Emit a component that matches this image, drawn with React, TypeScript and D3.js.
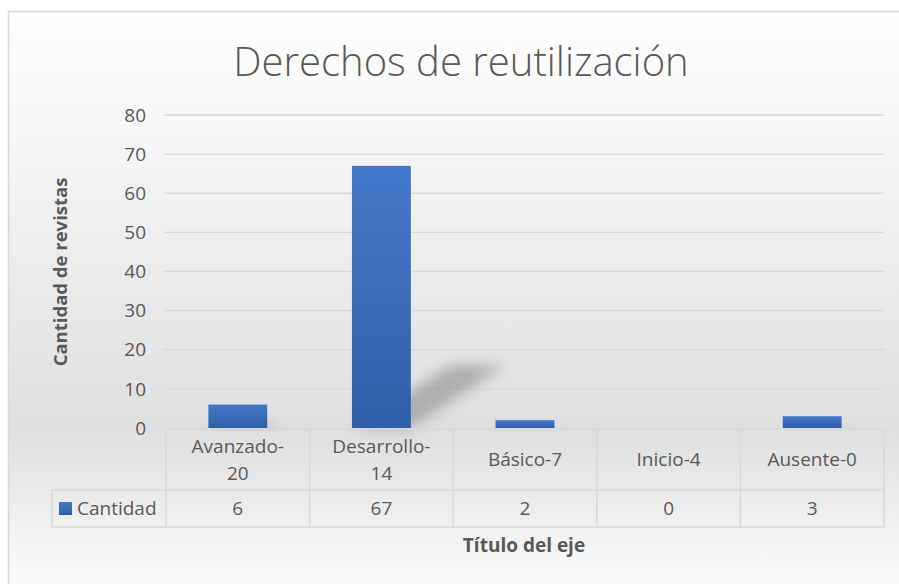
import React from "react";
import * as d3 from "d3";

const categories: string[] = ["Avanzado-20", "Desarrollo-14", "Básico-7", "Inicio-4", "Ausente-0"];
const values: number[] = [6, 67, 2, 0, 3];
const yTicks: number[] = [0, 10, 20, 30, 40, 50, 60, 70, 80];
const seriesName = "Cantidad";
const title = "Derechos de reutilización";
const yTitle = "Cantidad de revistas";
const xTitle = "Título del eje";

const W = 899;
const H = 584;
const FONT = "'Open Sans', 'Noto Sans', sans-serif";
const TXT = "#595959";
const GRID = "#d9d9d9";

export default function App() {
  const plotLeft = 166;
  const plotRight = 884;
  const x = d3.scaleBand<string>().domain(categories).range([plotLeft, plotRight]).padding(0);
  const y = d3.scaleLinear().domain([0, 80]).range([428, 115]);
  const bw = x.bandwidth();
  const barW = bw * 0.41;

  const hdrTop = 429;
  const hdrBot = 490;
  const valBot = 527;
  const legLeft = 52;
  const fs = 19;

  const splitLabel = (s: string) => {
    if (s.length > 10) {
      const i = s.indexOf("-");
      return [s.slice(0, i + 1), s.slice(i + 1)];
    }
    return [s];
  };

  return (
    <svg width={W} height={H} style={{ position: "absolute", left: 0, top: 0 }} fontFamily={FONT}>
      <defs>
        <linearGradient id="bg" x1="0" y1="11" x2="0" y2="610" gradientUnits="userSpaceOnUse">
          <stop offset="0" stopColor="#ffffff" />
          <stop offset="0.7" stopColor="#dfdfdf" />
          <stop offset="1" stopColor="#ffffff" />
        </linearGradient>
        <linearGradient id="bar" x1="0" y1="0" x2="0" y2="1">
          <stop offset="0" stopColor="#4479c9" />
          <stop offset="1" stopColor="#2f5fa9" />
        </linearGradient>
        <filter id="blur" x="-50%" y="-50%" width="200%" height="200%">
          <feGaussianBlur stdDeviation="7" />
        </filter>
      </defs>
      <rect x={0} y={0} width={W} height={H} fill="#ffffff" />
      <rect x={8.5} y={11.5} width={W} height={H + 40} fill="url(#bg)" stroke={GRID} strokeWidth={1.5} />

      <text x={461} y={76} textAnchor="middle" fontSize={40} fontWeight={300} fill={TXT}>
        {title}
      </text>

      {yTicks.map((t) => (
        <g key={t}>
          {t > 0 && (
            <line x1={plotLeft - 2} x2={plotRight} y1={y(t)} y2={y(t)} stroke={GRID} strokeWidth={1.3} />
          )}
          <text x={146} y={y(t)} dy="0.35em" textAnchor="end" fontSize={fs} fill={TXT}>
            {t}
          </text>
        </g>
      ))}

      {categories.map((c, i) => {
        const v = values[i];
        if (v <= 0) return null;
        const x0 = (x(c) as number) + (bw - barW) / 2;
        const h = y(0) - y(v);
        const dx = h * 0.36;
        const dy = h * 0.24;
        const base = y(0);
        const pts = [
          [x0 + 4, base],
          [x0 + barW, base],
          [x0 + barW + dx, base - dy],
          [x0 + 4 + dx, base - dy],
        ]
          .map((p) => p.join(","))
          .join(" ");
        return <polygon key={"s" + c} points={pts} fill="#7a7a7a" opacity={0.5} filter="url(#blur)" />;
      })}

      {categories.map((c, i) => {
        const v = values[i];
        if (v <= 0) return null;
        const x0 = (x(c) as number) + (bw - barW) / 2;
        return <rect key={c} x={x0} y={y(v)} width={barW} height={y(0) - y(v)} fill="url(#bar)" />;
      })}

      {/* data table */}
      <line x1={plotLeft} x2={plotRight} y1={hdrTop} y2={hdrTop} stroke={GRID} strokeWidth={1.5} />
      <line x1={legLeft} x2={plotRight} y1={hdrBot} y2={hdrBot} stroke={GRID} strokeWidth={1.5} />
      <line x1={legLeft} x2={plotRight} y1={valBot} y2={valBot} stroke={GRID} strokeWidth={1.5} />
      <line x1={legLeft} x2={legLeft} y1={hdrBot} y2={valBot} stroke={GRID} strokeWidth={1.5} />
      {[...categories.map((c) => x(c) as number), plotRight].map((xx, i) => (
        <line key={"v" + i} x1={xx} x2={xx} y1={hdrTop} y2={valBot} stroke={GRID} strokeWidth={1.5} />
      ))}

      {categories.map((c) => {
        const lines = splitLabel(c);
        const cx = (x(c) as number) + bw / 2;
        const cy = (hdrTop + hdrBot) / 2;
        const lh = 27;
        return (
          <text key={"h" + c} x={cx} textAnchor="middle" fontSize={fs} fill={TXT}>
            {lines.map((l, j) => (
              <tspan key={j} x={cx} y={cy + (j - (lines.length - 1) / 2) * lh} dy="0.35em">
                {l}
              </tspan>
            ))}
          </text>
        );
      })}

      {categories.map((c, i) => (
        <text
          key={"val" + c}
          x={(x(c) as number) + bw / 2}
          y={(hdrBot + valBot) / 2}
          dy="0.35em"
          textAnchor="middle"
          fontSize={fs}
          fill={TXT}
        >
          {values[i]}
        </text>
      ))}

      <rect x={59} y={502} width={13} height={13} fill="url(#bar)" />
      <text x={77} y={(hdrBot + valBot) / 2} dy="0.35em" fontSize={fs} fill={TXT}>
        {seriesName}
      </text>

      <text
        transform={`translate(61,272) rotate(-90)`}
        textAnchor="middle"
        dy="0.35em"
        fontSize={18.5}
        fontWeight={700}
        fill={TXT}
      >
        {yTitle}
      </text>
      <text x={524} y={545} dy="0.35em" textAnchor="middle" fontSize={19} fontWeight={700} fill={TXT}>
        {xTitle}
      </text>
    </svg>
  );
}
